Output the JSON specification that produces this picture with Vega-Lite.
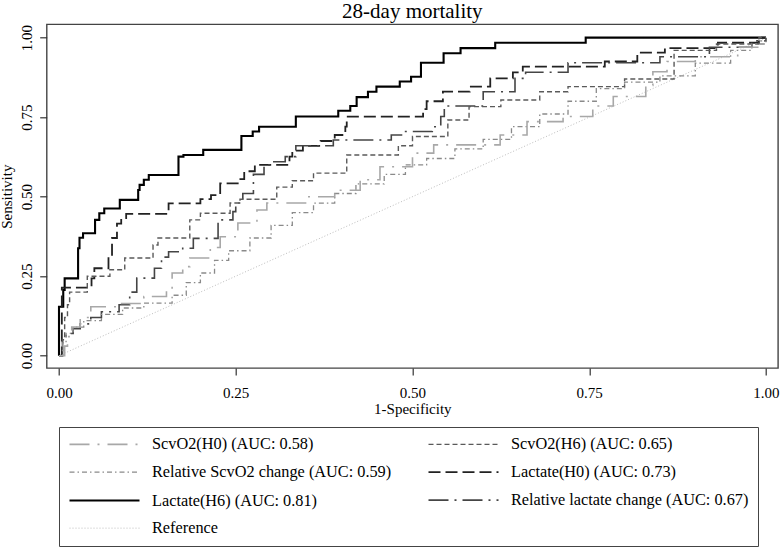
{
"$schema": "https://vega.github.io/schema/vega-lite/v6.json",
"width": 731.3, "height": 343.7,
"autosize": {"type": "none"},
"padding": {"left": 46.7, "top": 24.3, "right": 2, "bottom": 183},
"background": "white",
"title": {"text": "28-day mortality", "fontSize": 21, "fontWeight": "normal", "font": "Liberation Serif", "color": "#000", "anchor": "middle", "frame": "group", "baseline": "top", "offset": 2.5},
"config": {
  "font": "Liberation Serif",
  "view": {"stroke": "#444", "strokeWidth": 1.4},
  "axis": {"grid": false, "domain": false, "tickSize": 7, "tickColor": "#333", "tickWidth": 1.2, "labelFontSize": 15, "titleFontSize": 15, "titleFontWeight": "normal", "labelColor": "#000", "titleColor": "#000", "labelFont": "Liberation Serif", "titleFont": "Liberation Serif", "labelFlush": false}
},
"datasets": {
"curves": [
{"s":"Lactate(H6) (AUC: 0.81)","x":0,"y":0},{"s":"Lactate(H6) (AUC: 0.81)","x":0,"y":0.154},{"s":"Lactate(H6) (AUC: 0.81)","x":0.006,"y":0.207},{"s":"Lactate(H6) (AUC: 0.81)","x":0.008,"y":0.243},{"s":"Lactate(H6) (AUC: 0.81)","x":0.027,"y":0.338},{"s":"Lactate(H6) (AUC: 0.81)","x":0.029,"y":0.371},{"s":"Lactate(H6) (AUC: 0.81)","x":0.034,"y":0.385},{"s":"Lactate(H6) (AUC: 0.81)","x":0.051,"y":0.427},{"s":"Lactate(H6) (AUC: 0.81)","x":0.057,"y":0.448},{"s":"Lactate(H6) (AUC: 0.81)","x":0.064,"y":0.463},{"s":"Lactate(H6) (AUC: 0.81)","x":0.086,"y":0.49},{"s":"Lactate(H6) (AUC: 0.81)","x":0.112,"y":0.521},{"s":"Lactate(H6) (AUC: 0.81)","x":0.114,"y":0.537},{"s":"Lactate(H6) (AUC: 0.81)","x":0.12,"y":0.553},{"s":"Lactate(H6) (AUC: 0.81)","x":0.127,"y":0.568},{"s":"Lactate(H6) (AUC: 0.81)","x":0.169,"y":0.626},{"s":"Lactate(H6) (AUC: 0.81)","x":0.176,"y":0.631},{"s":"Lactate(H6) (AUC: 0.81)","x":0.204,"y":0.647},{"s":"Lactate(H6) (AUC: 0.81)","x":0.258,"y":0.691},{"s":"Lactate(H6) (AUC: 0.81)","x":0.274,"y":0.705},{"s":"Lactate(H6) (AUC: 0.81)","x":0.283,"y":0.72},{"s":"Lactate(H6) (AUC: 0.81)","x":0.335,"y":0.752},{"s":"Lactate(H6) (AUC: 0.81)","x":0.395,"y":0.77},{"s":"Lactate(H6) (AUC: 0.81)","x":0.412,"y":0.785},{"s":"Lactate(H6) (AUC: 0.81)","x":0.421,"y":0.813},{"s":"Lactate(H6) (AUC: 0.81)","x":0.437,"y":0.83},{"s":"Lactate(H6) (AUC: 0.81)","x":0.449,"y":0.846},{"s":"Lactate(H6) (AUC: 0.81)","x":0.482,"y":0.862},{"s":"Lactate(H6) (AUC: 0.81)","x":0.498,"y":0.877},{"s":"Lactate(H6) (AUC: 0.81)","x":0.512,"y":0.921},{"s":"Lactate(H6) (AUC: 0.81)","x":0.544,"y":0.951},{"s":"Lactate(H6) (AUC: 0.81)","x":0.568,"y":0.967},{"s":"Lactate(H6) (AUC: 0.81)","x":0.617,"y":0.984},{"s":"Lactate(H6) (AUC: 0.81)","x":0.745,"y":1},{"s":"Lactate(H6) (AUC: 0.81)","x":1,"y":1},
{"s":"Lactate(H0) (AUC: 0.73)","x":0,"y":0},{"s":"Lactate(H0) (AUC: 0.73)","x":0.004,"y":0.214},{"s":"Lactate(H0) (AUC: 0.73)","x":0.046,"y":0.243},{"s":"Lactate(H0) (AUC: 0.73)","x":0.05,"y":0.275},{"s":"Lactate(H0) (AUC: 0.73)","x":0.07,"y":0.31},{"s":"Lactate(H0) (AUC: 0.73)","x":0.075,"y":0.37},{"s":"Lactate(H0) (AUC: 0.73)","x":0.082,"y":0.415},{"s":"Lactate(H0) (AUC: 0.73)","x":0.088,"y":0.433},{"s":"Lactate(H0) (AUC: 0.73)","x":0.095,"y":0.446},{"s":"Lactate(H0) (AUC: 0.73)","x":0.155,"y":0.479},{"s":"Lactate(H0) (AUC: 0.73)","x":0.2,"y":0.492},{"s":"Lactate(H0) (AUC: 0.73)","x":0.215,"y":0.505},{"s":"Lactate(H0) (AUC: 0.73)","x":0.228,"y":0.542},{"s":"Lactate(H0) (AUC: 0.73)","x":0.255,"y":0.555},{"s":"Lactate(H0) (AUC: 0.73)","x":0.262,"y":0.58},{"s":"Lactate(H0) (AUC: 0.73)","x":0.277,"y":0.6},{"s":"Lactate(H0) (AUC: 0.73)","x":0.326,"y":0.626},{"s":"Lactate(H0) (AUC: 0.73)","x":0.33,"y":0.645},{"s":"Lactate(H0) (AUC: 0.73)","x":0.345,"y":0.66},{"s":"Lactate(H0) (AUC: 0.73)","x":0.37,"y":0.675},{"s":"Lactate(H0) (AUC: 0.73)","x":0.39,"y":0.694},{"s":"Lactate(H0) (AUC: 0.73)","x":0.405,"y":0.72},{"s":"Lactate(H0) (AUC: 0.73)","x":0.407,"y":0.752},{"s":"Lactate(H0) (AUC: 0.73)","x":0.515,"y":0.775},{"s":"Lactate(H0) (AUC: 0.73)","x":0.52,"y":0.8},{"s":"Lactate(H0) (AUC: 0.73)","x":0.543,"y":0.83},{"s":"Lactate(H0) (AUC: 0.73)","x":0.581,"y":0.846},{"s":"Lactate(H0) (AUC: 0.73)","x":0.61,"y":0.872},{"s":"Lactate(H0) (AUC: 0.73)","x":0.642,"y":0.891},{"s":"Lactate(H0) (AUC: 0.73)","x":0.656,"y":0.909},{"s":"Lactate(H0) (AUC: 0.73)","x":0.772,"y":0.925},{"s":"Lactate(H0) (AUC: 0.73)","x":0.818,"y":0.953},{"s":"Lactate(H0) (AUC: 0.73)","x":0.857,"y":0.967},{"s":"Lactate(H0) (AUC: 0.73)","x":0.932,"y":0.984},{"s":"Lactate(H0) (AUC: 0.73)","x":0.99,"y":1},{"s":"Lactate(H0) (AUC: 0.73)","x":1,"y":1},
{"s":"Relative lactate change (AUC: 0.67)","x":0,"y":0},{"s":"Relative lactate change (AUC: 0.67)","x":0.005,"y":0.05},{"s":"Relative lactate change (AUC: 0.67)","x":0.01,"y":0.07},{"s":"Relative lactate change (AUC: 0.67)","x":0.02,"y":0.085},{"s":"Relative lactate change (AUC: 0.67)","x":0.03,"y":0.1},{"s":"Relative lactate change (AUC: 0.67)","x":0.045,"y":0.12},{"s":"Relative lactate change (AUC: 0.67)","x":0.06,"y":0.138},{"s":"Relative lactate change (AUC: 0.67)","x":0.085,"y":0.16},{"s":"Relative lactate change (AUC: 0.67)","x":0.1,"y":0.2},{"s":"Relative lactate change (AUC: 0.67)","x":0.11,"y":0.244},{"s":"Relative lactate change (AUC: 0.67)","x":0.135,"y":0.275},{"s":"Relative lactate change (AUC: 0.67)","x":0.145,"y":0.31},{"s":"Relative lactate change (AUC: 0.67)","x":0.155,"y":0.327},{"s":"Relative lactate change (AUC: 0.67)","x":0.175,"y":0.338},{"s":"Relative lactate change (AUC: 0.67)","x":0.19,"y":0.369},{"s":"Relative lactate change (AUC: 0.67)","x":0.225,"y":0.427},{"s":"Relative lactate change (AUC: 0.67)","x":0.246,"y":0.453},{"s":"Relative lactate change (AUC: 0.67)","x":0.25,"y":0.48},{"s":"Relative lactate change (AUC: 0.67)","x":0.26,"y":0.51},{"s":"Relative lactate change (AUC: 0.67)","x":0.275,"y":0.57},{"s":"Relative lactate change (AUC: 0.67)","x":0.29,"y":0.6},{"s":"Relative lactate change (AUC: 0.67)","x":0.3,"y":0.61},{"s":"Relative lactate change (AUC: 0.67)","x":0.32,"y":0.626},{"s":"Relative lactate change (AUC: 0.67)","x":0.335,"y":0.66},{"s":"Relative lactate change (AUC: 0.67)","x":0.388,"y":0.678},{"s":"Relative lactate change (AUC: 0.67)","x":0.47,"y":0.694},{"s":"Relative lactate change (AUC: 0.67)","x":0.487,"y":0.705},{"s":"Relative lactate change (AUC: 0.67)","x":0.528,"y":0.72},{"s":"Relative lactate change (AUC: 0.67)","x":0.54,"y":0.752},{"s":"Relative lactate change (AUC: 0.67)","x":0.545,"y":0.785},{"s":"Relative lactate change (AUC: 0.67)","x":0.6,"y":0.83},{"s":"Relative lactate change (AUC: 0.67)","x":0.645,"y":0.872},{"s":"Relative lactate change (AUC: 0.67)","x":0.66,"y":0.891},{"s":"Relative lactate change (AUC: 0.67)","x":0.72,"y":0.921},{"s":"Relative lactate change (AUC: 0.67)","x":0.85,"y":0.94},{"s":"Relative lactate change (AUC: 0.67)","x":0.92,"y":0.97},{"s":"Relative lactate change (AUC: 0.67)","x":0.98,"y":0.99},{"s":"Relative lactate change (AUC: 0.67)","x":1,"y":1},
{"s":"ScvO2(H6) (AUC: 0.65)","x":0,"y":0},{"s":"ScvO2(H6) (AUC: 0.65)","x":0.005,"y":0.05},{"s":"ScvO2(H6) (AUC: 0.65)","x":0.008,"y":0.12},{"s":"ScvO2(H6) (AUC: 0.65)","x":0.012,"y":0.16},{"s":"ScvO2(H6) (AUC: 0.65)","x":0.015,"y":0.2},{"s":"ScvO2(H6) (AUC: 0.65)","x":0.04,"y":0.25},{"s":"ScvO2(H6) (AUC: 0.65)","x":0.072,"y":0.27},{"s":"ScvO2(H6) (AUC: 0.65)","x":0.093,"y":0.307},{"s":"ScvO2(H6) (AUC: 0.65)","x":0.133,"y":0.348},{"s":"ScvO2(H6) (AUC: 0.65)","x":0.14,"y":0.37},{"s":"ScvO2(H6) (AUC: 0.65)","x":0.185,"y":0.427},{"s":"ScvO2(H6) (AUC: 0.65)","x":0.2,"y":0.448},{"s":"ScvO2(H6) (AUC: 0.65)","x":0.242,"y":0.48},{"s":"ScvO2(H6) (AUC: 0.65)","x":0.256,"y":0.492},{"s":"ScvO2(H6) (AUC: 0.65)","x":0.308,"y":0.53},{"s":"ScvO2(H6) (AUC: 0.65)","x":0.33,"y":0.55},{"s":"ScvO2(H6) (AUC: 0.65)","x":0.36,"y":0.574},{"s":"ScvO2(H6) (AUC: 0.65)","x":0.407,"y":0.631},{"s":"ScvO2(H6) (AUC: 0.65)","x":0.48,"y":0.66},{"s":"ScvO2(H6) (AUC: 0.65)","x":0.5,"y":0.689},{"s":"ScvO2(H6) (AUC: 0.65)","x":0.55,"y":0.741},{"s":"ScvO2(H6) (AUC: 0.65)","x":0.58,"y":0.783},{"s":"ScvO2(H6) (AUC: 0.65)","x":0.625,"y":0.804},{"s":"ScvO2(H6) (AUC: 0.65)","x":0.68,"y":0.83},{"s":"ScvO2(H6) (AUC: 0.65)","x":0.72,"y":0.846},{"s":"ScvO2(H6) (AUC: 0.65)","x":0.8,"y":0.87},{"s":"ScvO2(H6) (AUC: 0.65)","x":0.87,"y":0.96},{"s":"ScvO2(H6) (AUC: 0.65)","x":0.93,"y":0.98},{"s":"ScvO2(H6) (AUC: 0.65)","x":0.99,"y":1},{"s":"ScvO2(H6) (AUC: 0.65)","x":1,"y":1},
{"s":"Relative ScvO2 change (AUC: 0.59)","x":0,"y":0},{"s":"Relative ScvO2 change (AUC: 0.59)","x":0.005,"y":0.04},{"s":"Relative ScvO2 change (AUC: 0.59)","x":0.01,"y":0.07},{"s":"Relative ScvO2 change (AUC: 0.59)","x":0.02,"y":0.09},{"s":"Relative ScvO2 change (AUC: 0.59)","x":0.035,"y":0.11},{"s":"Relative ScvO2 change (AUC: 0.59)","x":0.06,"y":0.13},{"s":"Relative ScvO2 change (AUC: 0.59)","x":0.09,"y":0.15},{"s":"Relative ScvO2 change (AUC: 0.59)","x":0.12,"y":0.165},{"s":"Relative ScvO2 change (AUC: 0.59)","x":0.16,"y":0.19},{"s":"Relative ScvO2 change (AUC: 0.59)","x":0.18,"y":0.23},{"s":"Relative ScvO2 change (AUC: 0.59)","x":0.2,"y":0.26},{"s":"Relative ScvO2 change (AUC: 0.59)","x":0.22,"y":0.3},{"s":"Relative ScvO2 change (AUC: 0.59)","x":0.24,"y":0.33},{"s":"Relative ScvO2 change (AUC: 0.59)","x":0.27,"y":0.37},{"s":"Relative ScvO2 change (AUC: 0.59)","x":0.3,"y":0.41},{"s":"Relative ScvO2 change (AUC: 0.59)","x":0.33,"y":0.45},{"s":"Relative ScvO2 change (AUC: 0.59)","x":0.36,"y":0.48},{"s":"Relative ScvO2 change (AUC: 0.59)","x":0.39,"y":0.51},{"s":"Relative ScvO2 change (AUC: 0.59)","x":0.42,"y":0.54},{"s":"Relative ScvO2 change (AUC: 0.59)","x":0.46,"y":0.57},{"s":"Relative ScvO2 change (AUC: 0.59)","x":0.49,"y":0.6},{"s":"Relative ScvO2 change (AUC: 0.59)","x":0.52,"y":0.62},{"s":"Relative ScvO2 change (AUC: 0.59)","x":0.56,"y":0.65},{"s":"Relative ScvO2 change (AUC: 0.59)","x":0.6,"y":0.68},{"s":"Relative ScvO2 change (AUC: 0.59)","x":0.64,"y":0.72},{"s":"Relative ScvO2 change (AUC: 0.59)","x":0.68,"y":0.76},{"s":"Relative ScvO2 change (AUC: 0.59)","x":0.72,"y":0.8},{"s":"Relative ScvO2 change (AUC: 0.59)","x":0.76,"y":0.84},{"s":"Relative ScvO2 change (AUC: 0.59)","x":0.8,"y":0.86},{"s":"Relative ScvO2 change (AUC: 0.59)","x":0.85,"y":0.88},{"s":"Relative ScvO2 change (AUC: 0.59)","x":0.9,"y":0.92},{"s":"Relative ScvO2 change (AUC: 0.59)","x":0.95,"y":0.96},{"s":"Relative ScvO2 change (AUC: 0.59)","x":0.98,"y":0.98},{"s":"Relative ScvO2 change (AUC: 0.59)","x":1,"y":1},
{"s":"ScvO2(H0) (AUC: 0.58)","x":0,"y":0},{"s":"ScvO2(H0) (AUC: 0.58)","x":0.008,"y":0.03},{"s":"ScvO2(H0) (AUC: 0.58)","x":0.012,"y":0.06},{"s":"ScvO2(H0) (AUC: 0.58)","x":0.018,"y":0.09},{"s":"ScvO2(H0) (AUC: 0.58)","x":0.03,"y":0.12},{"s":"ScvO2(H0) (AUC: 0.58)","x":0.045,"y":0.154},{"s":"ScvO2(H0) (AUC: 0.58)","x":0.085,"y":0.164},{"s":"ScvO2(H0) (AUC: 0.58)","x":0.12,"y":0.186},{"s":"ScvO2(H0) (AUC: 0.58)","x":0.152,"y":0.207},{"s":"ScvO2(H0) (AUC: 0.58)","x":0.16,"y":0.26},{"s":"ScvO2(H0) (AUC: 0.58)","x":0.175,"y":0.28},{"s":"ScvO2(H0) (AUC: 0.58)","x":0.185,"y":0.307},{"s":"ScvO2(H0) (AUC: 0.58)","x":0.214,"y":0.34},{"s":"ScvO2(H0) (AUC: 0.58)","x":0.228,"y":0.374},{"s":"ScvO2(H0) (AUC: 0.58)","x":0.253,"y":0.417},{"s":"ScvO2(H0) (AUC: 0.58)","x":0.28,"y":0.458},{"s":"ScvO2(H0) (AUC: 0.58)","x":0.294,"y":0.48},{"s":"ScvO2(H0) (AUC: 0.58)","x":0.35,"y":0.5},{"s":"ScvO2(H0) (AUC: 0.58)","x":0.39,"y":0.52},{"s":"ScvO2(H0) (AUC: 0.58)","x":0.426,"y":0.553},{"s":"ScvO2(H0) (AUC: 0.58)","x":0.454,"y":0.594},{"s":"ScvO2(H0) (AUC: 0.58)","x":0.5,"y":0.637},{"s":"ScvO2(H0) (AUC: 0.58)","x":0.53,"y":0.663},{"s":"ScvO2(H0) (AUC: 0.58)","x":0.624,"y":0.694},{"s":"ScvO2(H0) (AUC: 0.58)","x":0.662,"y":0.736},{"s":"ScvO2(H0) (AUC: 0.58)","x":0.713,"y":0.752},{"s":"ScvO2(H0) (AUC: 0.58)","x":0.755,"y":0.785},{"s":"ScvO2(H0) (AUC: 0.58)","x":0.784,"y":0.815},{"s":"ScvO2(H0) (AUC: 0.58)","x":0.83,"y":0.85},{"s":"ScvO2(H0) (AUC: 0.58)","x":0.84,"y":0.893},{"s":"ScvO2(H0) (AUC: 0.58)","x":0.86,"y":0.925},{"s":"ScvO2(H0) (AUC: 0.58)","x":0.9,"y":0.94},{"s":"ScvO2(H0) (AUC: 0.58)","x":0.96,"y":0.97},{"s":"ScvO2(H0) (AUC: 0.58)","x":0.99,"y":0.99},{"s":"ScvO2(H0) (AUC: 0.58)","x":1,"y":1}
],
"ref": [{"s":"Reference","x":0,"y":0},{"s":"Reference","x":1,"y":1}]
},
"encoding": {
  "x": {"field": "x", "type": "quantitative", "scale": {"domain": [-0.0174, 1.017], "nice": false, "zero": false}, "axis": {"values": [0, 0.25, 0.5, 0.75, 1], "format": ".2f", "title": "1-Specificity", "labelPadding": 10, "titlePadding": 1}},
  "y": {"field": "y", "type": "quantitative", "scale": {"domain": [-0.0387, 1.042], "nice": false, "zero": false}, "axis": {"values": [0, 0.25, 0.5, 0.75, 1], "format": ".2f", "title": "Sensitivity", "labelAngle": -90, "labelAlign": "center", "labelBaseline": "alphabetic", "labelPadding": 8, "titlePadding": 5}},
  "color": {"field": "s", "type": "nominal",
    "scale": {"domain": ["ScvO2(H0) (AUC: 0.58)", "Relative ScvO2 change (AUC: 0.59)", "Lactate(H6) (AUC: 0.81)", "Reference", "ScvO2(H6) (AUC: 0.65)", "Lactate(H0) (AUC: 0.73)", "Relative lactate change (AUC: 0.67)"],
              "range": ["#a8a8a8", "#8a8a8a", "#000000", "#bdbdbd", "#5a5a5a", "#222222", "#454545"]},
    "legend": {"title": null, "orient": "none", "legendX": 12.3, "legendY": 402.7, "columns": 2, "symbolType": "M-1,0H9", "symbolSize": 196, "labelOffset": 67, "labelFontSize": 16.3, "labelFont": "Liberation Serif", "labelColor": "#000", "padding": 9, "rowPadding": 11, "columnPadding": 32, "strokeColor": "#444", "gridAlign": "all", "labelLimit": 400}},
  "strokeDash": {"field": "s", "type": "nominal",
    "scale": {"domain": ["ScvO2(H0) (AUC: 0.58)", "Relative ScvO2 change (AUC: 0.59)", "Lactate(H6) (AUC: 0.81)", "Reference", "ScvO2(H6) (AUC: 0.65)", "Lactate(H0) (AUC: 0.73)", "Relative lactate change (AUC: 0.67)"],
              "range": [[20, 8, 2, 8], [5, 3, 1.5, 3], [1, 0], [1, 2], [5, 3], [12, 5], [20, 6, 2, 6]]}},
  "strokeWidth": {"field": "s", "type": "nominal",
    "scale": {"type": "ordinal", "domain": ["ScvO2(H0) (AUC: 0.58)", "Relative ScvO2 change (AUC: 0.59)", "Lactate(H6) (AUC: 0.81)", "Reference", "ScvO2(H6) (AUC: 0.65)", "Lactate(H0) (AUC: 0.73)", "Relative lactate change (AUC: 0.67)"],
              "range": [1.6, 1.3, 2.1, 1, 1.4, 1.8, 1.6]}}
},
"layer": [
  {"data": {"name": "ref"}, "mark": {"type": "line"}, "encoding": {}},
  {"data": {"name": "curves"}, "mark": {"type": "line", "interpolate": "step-after"},
   "encoding": {"order": [{"field": "x", "type": "quantitative"}, {"field": "y", "type": "quantitative"}]}}
]
}
